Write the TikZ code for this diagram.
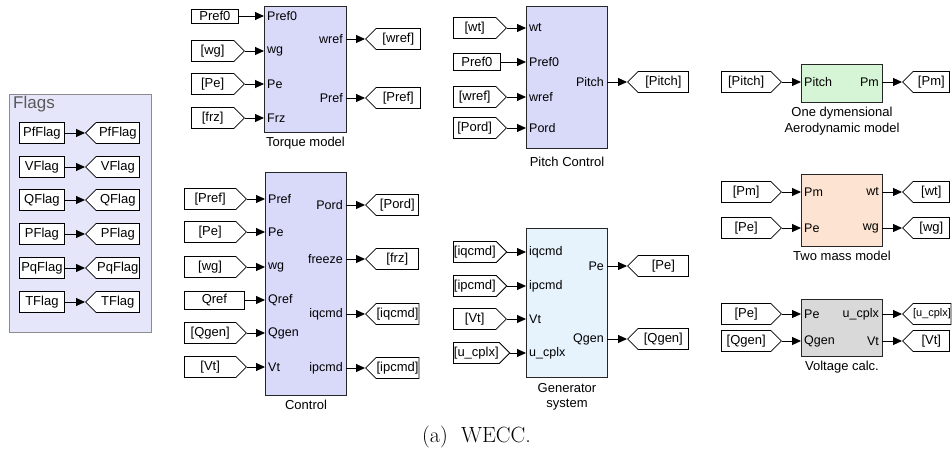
\documentclass[tikz,border=0pt]{standalone}
\usepackage{fontspec}
\usepackage{tikz}
\usetikzlibrary{shapes.symbols, arrows.meta, positioning}
\newfontfamily\simfont{Liberation Sans}
\newcommand{\tagfont}{\simfont\fontsize{13}{14}\selectfont}
\newcommand{\portfont}{\simfont\fontsize{12.5}{13}\selectfont}
\newcommand{\capfont}{\simfont\fontsize{13}{15.5}\selectfont}
\definecolor{ctrlfill}{HTML}{D9D9FA}
\definecolor{flagfill}{HTML}{E6E6FB}
\definecolor{genfill}{HTML}{E6F2FC}
\definecolor{aerofill}{HTML}{D6F5D6}
\definecolor{massfill}{HTML}{FDE4D2}
\definecolor{voltfill}{HTML}{D9D9D9}
\tikzstyle{simblock} = [
  rectangle, draw=black!85, line width=1pt,
  anchor=north west, inner sep=0pt
]
\tikzstyle{flagbox} = [
  rectangle, draw=black!45, fill=flagfill, line width=1pt,
  anchor=north west, inner sep=0pt
]
\tikzstyle{cnst} = [
  rectangle, draw=black, fill=white, line width=0.8pt,
  anchor=west, inner sep=1pt, font=\tagfont
]
\tikzstyle{fromtag} = [
  signal, signal to=east, draw=black, fill=white, line width=0.8pt,
  anchor=west, minimum height=21pt, inner sep=0.5pt, font=\tagfont
]
\tikzstyle{gototag} = [
  signal, signal to=west, draw=black, fill=white, line width=0.8pt,
  anchor=west, minimum height=21pt, inner sep=0.5pt, font=\tagfont
]
\tikzstyle{portin} = [anchor=west, inner sep=3pt, font=\portfont]
\tikzstyle{portout} = [anchor=east, inner sep=3pt, font=\portfont]
\tikzstyle{capt} = [font=\capfont, align=center, inner sep=1pt]
\tikzstyle{wire} = [-{Triangle[length=9pt,width=8pt]}, line width=0.9pt]

\begin{document}
\begin{tikzpicture}[x=1pt, y=-1pt]
  \useasboundingbox (0,0) rectangle (952,454);

  % Flags
  \node[flagbox, minimum width=142pt, minimum height=238pt] (flags) at (9,94) {};
  \node[anchor=west, inner sep=0pt, text=black!65, font=\simfont\fontsize{17}{18}\selectfont] (flagtitle) at (13,104) {Flags};
  \node[cnst, minimum width=45pt, minimum height=21pt] (pfflag) at (19,133) {PfFlag};
  \node[gototag, minimum width=54pt] (pfflaggo) at (85,133) {PfFlag};
  \node[cnst, minimum width=45pt, minimum height=21pt] (vflag) at (19,167) {VFlag};
  \node[gototag, minimum width=54pt] (vflaggo) at (85,167) {VFlag};
  \node[cnst, minimum width=45pt, minimum height=21pt] (qflag) at (19,200) {QFlag};
  \node[gototag, minimum width=54pt] (qflaggo) at (85,200) {QFlag};
  \node[cnst, minimum width=45pt, minimum height=21pt] (pflag) at (19,234) {PFlag};
  \node[gototag, minimum width=54pt] (pflaggo) at (85,234) {PFlag};
  \node[cnst, minimum width=45pt, minimum height=21pt] (pqflag) at (19,268) {PqFlag};
  \node[gototag, minimum width=54pt] (pqflaggo) at (85,268) {PqFlag};
  \node[cnst, minimum width=45pt, minimum height=21pt] (tflag) at (19,302) {TFlag};
  \node[gototag, minimum width=54pt] (tflaggo) at (85,302) {TFlag};

  % Torque model
  \node[simblock, fill=ctrlfill, minimum width=82pt, minimum height=126pt] (torque) at (264,6) {};
  \node[capt, below=3pt of torque] (torquecap) {Torque model};
  \node[portin] (tqpref0) at (264,16) {Pref0};
  \node[portin] (tqwg) at (264,51) {wg};
  \node[portin] (tqpe) at (264,84) {Pe};
  \node[portin] (tqfrz) at (264,118) {Frz};
  \node[portout] (tqwref) at (346,39) {wref};
  \node[portout] (tqpref) at (346,98) {Pref};
  \node[cnst, minimum width=47pt, minimum height=14pt] (tqpref0src) at (191,16) {Pref0};
  \node[fromtag, minimum width=53pt] (tqwgsrc) at (191,51) {[wg]};
  \node[fromtag, minimum width=53pt] (tqpesrc) at (191,84) {[Pe]};
  \node[fromtag, minimum width=53pt] (tqfrzsrc) at (191,118) {[frz]};
  \node[gototag, minimum width=55pt] (tqwrefgo) at (365,39) {[wref]};
  \node[gototag, minimum width=55pt] (tqprefgo) at (365,98) {[Pref]};

  % Control
  \node[simblock, fill=ctrlfill, minimum width=81pt, minimum height=223pt] (control) at (265,172) {};
  \node[capt, below=3pt of control] (controlcap) {Control};
  \node[portin] (ctpref) at (265,199) {Pref};
  \node[portin] (ctpe) at (265,232) {Pe};
  \node[portin] (ctwg) at (265,267) {wg};
  \node[portin] (ctqref) at (265,300) {Qref};
  \node[portin] (ctqgen) at (265,333) {Qgen};
  \node[portin] (ctvt) at (265,367) {Vt};
  \node[portout] (ctpord) at (346,205) {Pord};
  \node[portout] (ctfreeze) at (346,259) {freeze};
  \node[portout] (ctiqcmd) at (346,314) {iqcmd};
  \node[portout] (ctipcmd) at (346,368) {ipcmd};
  \node[fromtag, minimum width=62pt] (ctprefsrc) at (184,199) {[Pref]};
  \node[fromtag, minimum width=62pt] (ctpesrc) at (184,232) {[Pe]};
  \node[fromtag, minimum width=62pt] (ctwgsrc) at (184,267) {[wg]};
  \node[cnst, minimum width=60pt, minimum height=18pt] (ctqrefsrc) at (184,300) {Qref};
  \node[fromtag, minimum width=62pt] (ctqgensrc) at (184,333) {[Qgen]};
  \node[fromtag, minimum width=62pt] (ctvtsrc) at (184,367) {[Vt]};
  \node[gototag, minimum width=53pt] (ctpordgo) at (365,205) {[Pord]};
  \node[gototag, minimum width=53pt] (ctfrzgo) at (365,259) {[frz]};
  \node[gototag, minimum width=53pt] (ctiqcmdgo) at (365,314) {[iqcmd]};
  \node[gototag, minimum width=53pt] (ctipcmdgo) at (365,368) {[ipcmd]};

  % Pitch Control
  \node[simblock, fill=ctrlfill, minimum width=81pt, minimum height=142pt] (pitch) at (526,6) {};
  \node[capt, below=7pt of pitch] (pitchcap) {Pitch Control};
  \node[portin] (pcwt) at (526,28) {wt};
  \node[portin] (pcpref0) at (526,62) {Pref0};
  \node[portin] (pcwref) at (526,97) {wref};
  \node[portin] (pcpord) at (526,128) {Pord};
  \node[portout] (pcpitch) at (607,82) {Pitch};
  \node[fromtag, minimum width=53pt] (pcwtsrc) at (453,28) {[wt]};
  \node[cnst, minimum width=47pt, minimum height=17pt] (pcpref0src) at (453,62) {Pref0};
  \node[fromtag, minimum width=53pt] (pcwrefsrc) at (453,97) {[wref]};
  \node[fromtag, minimum width=53pt] (pcpordsrc) at (453,128) {[Pord]};
  \node[gototag, minimum width=61pt] (pcpitchgo) at (627,82) {[Pitch]};

  % Generator system
  \node[simblock, fill=genfill, minimum width=81pt, minimum height=149pt] (gen) at (526,228) {};
  \node[capt, below=4pt of gen] (gencap) {Generator\\system};
  \node[portin] (gniqcmd) at (526,252) {iqcmd};
  \node[portin] (gnipcmd) at (526,286) {ipcmd};
  \node[portin] (gnvt) at (526,319) {Vt};
  \node[portin] (gnucplx) at (526,353) {u\_cplx};
  \node[portout] (gnpe) at (607,266) {Pe};
  \node[portout] (gnqgen) at (607,339) {Qgen};
  \node[fromtag, minimum width=53pt] (gniqcmdsrc) at (453,252) {[iqcmd]};
  \node[fromtag, minimum width=53pt] (gnipcmdsrc) at (453,286) {[ipcmd]};
  \node[fromtag, minimum width=53pt] (gnvtsrc) at (453,319) {[Vt]};
  \node[fromtag, minimum width=53pt] (gnucplxsrc) at (453,353) {[u\_cplx]};
  \node[gototag, minimum width=61pt] (gnpego) at (627,266) {[Pe]};
  \node[gototag, minimum width=61pt] (gnqgengo) at (627,339) {[Qgen]};

  % One dymensional aerodynamic model
  \node[simblock, fill=aerofill, minimum width=81pt, minimum height=38pt] (aero) at (801,64) {};
  \node[capt, below=3pt of aero] (aerocap) {One dymensional\\Aerodynamic model};
  \node[portin] (aepitch) at (801,82) {Pitch};
  \node[portout] (aepm) at (882,82) {Pm};
  \node[fromtag, minimum width=60pt] (aepitchsrc) at (721,82) {[Pitch]};
  \node[gototag, minimum width=47pt] (aepmgo) at (902,82) {[Pm]};

  % Two mass model
  \node[simblock, fill=massfill, minimum width=81pt, minimum height=72pt] (mass) at (801,174) {};
  \node[capt, below=3pt of mass] (masscap) {Two mass model};
  \node[portin] (tmpm) at (801,192) {Pm};
  \node[portin] (tmpe) at (801,228) {Pe};
  \node[portout] (tmwt) at (882,192) {wt};
  \node[portout] (tmwg) at (882,228) {wg};
  \node[fromtag, minimum width=60pt] (tmpmsrc) at (721,192) {[Pm]};
  \node[fromtag, minimum width=60pt] (tmpesrc) at (721,228) {[Pe]};
  \node[gototag, minimum width=47pt] (tmwtgo) at (902,192) {[wt]};
  \node[gototag, minimum width=47pt] (tmwggo) at (902,228) {[wg]};

  % Voltage calc.
  \node[simblock, fill=voltfill, minimum width=81pt, minimum height=57pt] (volt) at (801,299) {};
  \node[capt, below=3pt of volt] (voltcap) {Voltage calc.};
  \node[portin] (vcpe) at (801,314) {Pe};
  \node[portin] (vcqgen) at (801,341) {Qgen};
  \node[portout] (vcucplx) at (882,314) {u\_cplx};
  \node[portout] (vcvt) at (882,341) {Vt};
  \node[fromtag, minimum width=60pt] (vcpesrc) at (721,314) {[Pe]};
  \node[fromtag, minimum width=60pt] (vcqgensrc) at (721,341) {[Qgen]};
  \node[gototag, minimum width=47pt, inner sep=0pt, font=\simfont\fontsize{11}{13}\selectfont] (vcucplxgo) at (902,314) {[u\_cplx]};
  \node[gototag, minimum width=47pt] (vcvtgo) at (902,341) {[Vt]};

  % Caption
  \node[anchor=base, font=\fontsize{22}{26}\selectfont] (caption) at (476.5,442.5) {(a)\hspace{0.6em}WECC.};

  % Connections - flags
  \draw[wire] (pfflag.east) -- (pfflaggo.west);
  \draw[wire] (vflag.east) -- (vflaggo.west);
  \draw[wire] (qflag.east) -- (qflaggo.west);
  \draw[wire] (pflag.east) -- (pflaggo.west);
  \draw[wire] (pqflag.east) -- (pqflaggo.west);
  \draw[wire] (tflag.east) -- (tflaggo.west);

  % Torque model
  \draw[wire] (tqpref0src.east) -- (tqpref0.west);
  \draw[wire] (tqwgsrc.east) -- (tqwg.west);
  \draw[wire] (tqpesrc.east) -- (tqpe.west);
  \draw[wire] (tqfrzsrc.east) -- (tqfrz.west);
  \draw[wire] (tqwref.east) -- (tqwrefgo.west);
  \draw[wire] (tqpref.east) -- (tqprefgo.west);

  % Control
  \draw[wire] (ctprefsrc.east) -- (ctpref.west);
  \draw[wire] (ctpesrc.east) -- (ctpe.west);
  \draw[wire] (ctwgsrc.east) -- (ctwg.west);
  \draw[wire] (ctqrefsrc.east) -- (ctqref.west);
  \draw[wire] (ctqgensrc.east) -- (ctqgen.west);
  \draw[wire] (ctvtsrc.east) -- (ctvt.west);
  \draw[wire] (ctpord.east) -- (ctpordgo.west);
  \draw[wire] (ctfreeze.east) -- (ctfrzgo.west);
  \draw[wire] (ctiqcmd.east) -- (ctiqcmdgo.west);
  \draw[wire] (ctipcmd.east) -- (ctipcmdgo.west);

  % Pitch Control
  \draw[wire] (pcwtsrc.east) -- (pcwt.west);
  \draw[wire] (pcpref0src.east) -- (pcpref0.west);
  \draw[wire] (pcwrefsrc.east) -- (pcwref.west);
  \draw[wire] (pcpordsrc.east) -- (pcpord.west);
  \draw[wire] (pcpitch.east) -- (pcpitchgo.west);

  % Generator system
  \draw[wire] (gniqcmdsrc.east) -- (gniqcmd.west);
  \draw[wire] (gnipcmdsrc.east) -- (gnipcmd.west);
  \draw[wire] (gnvtsrc.east) -- (gnvt.west);
  \draw[wire] (gnucplxsrc.east) -- (gnucplx.west);
  \draw[wire] (gnpe.east) -- (gnpego.west);
  \draw[wire] (gnqgen.east) -- (gnqgengo.west);

  % Right column
  \draw[wire] (aepitchsrc.east) -- (aepitch.west);
  \draw[wire] (aepm.east) -- (aepmgo.west);
  \draw[wire] (tmpmsrc.east) -- (tmpm.west);
  \draw[wire] (tmpesrc.east) -- (tmpe.west);
  \draw[wire] (tmwt.east) -- (tmwtgo.west);
  \draw[wire] (tmwg.east) -- (tmwggo.west);
  \draw[wire] (vcpesrc.east) -- (vcpe.west);
  \draw[wire] (vcqgensrc.east) -- (vcqgen.west);
  \draw[wire] (vcucplx.east) -- (vcucplxgo.west);
  \draw[wire] (vcvt.east) -- (vcvtgo.west);

\end{tikzpicture}
\end{document}
